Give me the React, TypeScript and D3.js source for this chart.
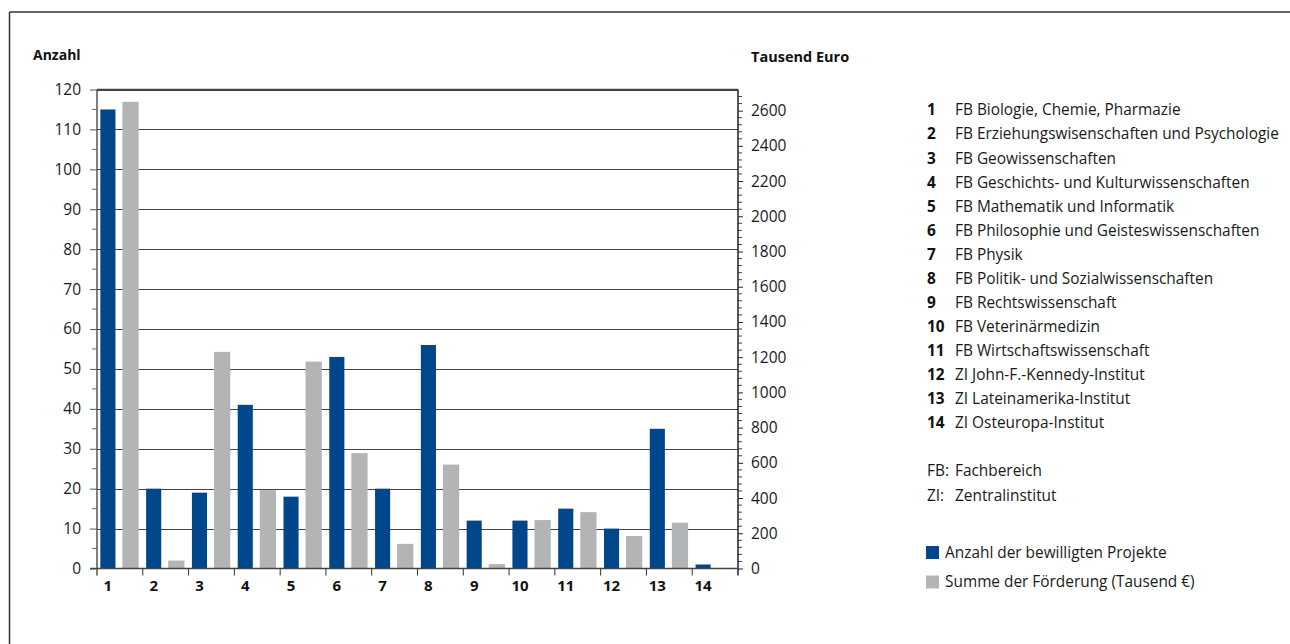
import React, { useRef, useEffect } from 'react';
import * as d3 from 'd3';

// Fachbereiche / Zentralinstitute (Kategorie-Nummern auf der x-Achse)
const categories = ['1', '2', '3', '4', '5', '6', '7', '8', '9', '10', '11', '12', '13', '14'];

const unitNames = [
  'FB Biologie, Chemie, Pharmazie',
  'FB Erziehungswisenschaften und Psychologie',
  'FB Geowissenschaften',
  'FB Geschichts- und Kulturwissenschaften',
  'FB Mathematik und Informatik',
  'FB Philosophie und Geisteswissenschaften',
  'FB Physik',
  'FB Politik- und Sozialwissenschaften',
  'FB Rechtswissenschaft',
  'FB Veterinärmedizin',
  'FB Wirtschaftswissenschaft',
  'ZI John-F.-Kennedy-Institut',
  'ZI Lateinamerika-Institut',
  'ZI Osteuropa-Institut',
];

// Anzahl der bewilligten Projekte (linke Achse)
const projectCounts = [115, 20, 19, 41, 18, 53, 20, 56, 12, 12, 15, 10, 35, 1];

// Summe der Förderung in Tausend Euro (rechte Achse)
const fundingSums = [2650, 45, 1230, 445, 1175, 655, 140, 590, 25, 275, 320, 185, 260, 0];

const leftTicks = [0, 10, 20, 30, 40, 50, 60, 70, 80, 90, 100, 110, 120];
const rightTicks = [0, 200, 400, 600, 800, 1000, 1200, 1400, 1600, 1800, 2000, 2200, 2400, 2600];

const abbreviations = [
  { key: 'FB:', text: 'Fachbereich' },
  { key: 'ZI:', text: 'Zentralinstitut' },
];

const seriesNames = ['Anzahl der bewilligten Projekte', 'Summe der Förderung (Tausend €)'];

const BLUE = '#00468b';
const GREY = '#b3b4b6';
const FONT = '"Open Sans", "DejaVu Sans", sans-serif';
const LEGEND_SIZE = '15.4px';

const App: React.FC = () => {
  const svgRef = useRef<SVGSVGElement>(null);

  useEffect(() => {
    if (!svgRef.current) return;
    document.body.style.margin = '0';

    const width = 1290;
    const height = 644;
    const svg = d3.select(svgRef.current);
    svg.selectAll('*').remove();
    svg.attr('width', width).attr('height', height).style('font-family', FONT);

    // Rahmen (nur oben und links sichtbar)
    svg.append('line').attr('x1', 9.5).attr('x2', width).attr('y1', 12).attr('y2', 12)
      .attr('stroke', '#333').attr('stroke-width', 1.5);
    svg.append('line').attr('x1', 9.5).attr('x2', 9.5).attr('y1', 12).attr('y2', height)
      .attr('stroke', '#333').attr('stroke-width', 1.5);

    const left = 97;
    const right = 738;
    const top = 89.5;
    const bottom = 568.5;

    const x = d3.scaleBand<string>().domain(categories).range([left, right]).padding(0);
    const yL = d3.scaleLinear().domain([0, 120]).range([bottom, top]);
    const yR = d3.scaleLinear().domain([0, 2720]).range([bottom, top]);
    const bw = x.bandwidth();

    // Gitterlinien
    svg.append('g').selectAll('line')
      .data(leftTicks.filter(d => d > 0))
      .enter().append('line')
      .attr('x1', left).attr('x2', right)
      .attr('y1', d => Math.round(yL(d)) + 0.5).attr('y2', d => Math.round(yL(d)) + 0.5)
      .attr('stroke', '#444').attr('stroke-width', 1);

    // Balken
    const bars = svg.append('g');
    bars.selectAll('.blue')
      .data(projectCounts)
      .enter().append('rect')
      .attr('x', (d, i) => (x(categories[i]) as number) + bw * 0.073)
      .attr('width', bw * 0.33)
      .attr('y', d => yL(d))
      .attr('height', d => bottom - yL(d))
      .attr('fill', BLUE);
    bars.selectAll('.grey')
      .data(fundingSums)
      .enter().append('rect')
      .attr('x', (d, i) => (x(categories[i]) as number) + bw * 0.555)
      .attr('width', bw * 0.355)
      .attr('y', d => yR(d))
      .attr('height', d => bottom - yR(d))
      .attr('fill', GREY);

    // linke Achse
    const gl = svg.append('g').attr('transform', `translate(${left},0)`);
    gl.call(d3.axisLeft(yL).tickValues(leftTicks).tickSize(7).tickPadding(9).tickFormat(d3.format('d')));
    gl.select('.domain').remove();
    gl.selectAll('.tick line').attr('stroke', '#555');
    gl.selectAll('text').style('font-size', '15.5px').style('font-family', FONT).attr('fill', '#1a1a1a');
    gl.append('g').selectAll('line')
      .data(d3.range(5, 120, 10))
      .enter().append('line')
      .attr('x1', -5).attr('x2', 0)
      .attr('y1', d => yL(d)).attr('y2', d => yL(d))
      .attr('stroke', '#666');
    gl.append('line').attr('x1', 0).attr('x2', 0).attr('y1', top).attr('y2', bottom + 7)
      .attr('stroke', '#555').attr('stroke-width', 1.5);

    // rechte Achse
    const gr = svg.append('g').attr('transform', `translate(${right},0)`);
    gr.call(d3.axisRight(yR).tickValues(rightTicks).tickSize(5).tickPadding(8).tickFormat(d3.format('d')));
    gr.select('.domain').remove();
    gr.selectAll('.tick line').attr('stroke', '#222');
    gr.selectAll('text').style('font-size', '15.5px').style('font-family', FONT).attr('fill', '#1a1a1a');
    gr.append('g').selectAll('line')
      .data(d3.range(40, 2720, 40).filter(d => d % 200 !== 0))
      .enter().append('line')
      .attr('x1', 0).attr('x2', 4)
      .attr('y1', d => yR(d)).attr('y2', d => yR(d))
      .attr('stroke', '#444');
    gr.append('line').attr('x1', 0).attr('x2', 0).attr('y1', top).attr('y2', bottom + 7)
      .attr('stroke', '#222').attr('stroke-width', 1.5);

    // Grundlinie und Kategorieachse
    svg.append('line').attr('x1', left - 7).attr('x2', right).attr('y1', bottom).attr('y2', bottom)
      .attr('stroke', '#444').attr('stroke-width', 1.5);
    svg.append('line').attr('x1', left).attr('x2', right).attr('y1', top).attr('y2', top)
      .attr('stroke', '#444').attr('stroke-width', 1.5);
    svg.append('g').selectAll('line')
      .data(categories.slice(1))
      .enter().append('line')
      .attr('x1', d => x(d) as number).attr('x2', d => x(d) as number)
      .attr('y1', bottom).attr('y2', bottom + 7)
      .attr('stroke', '#333');
    svg.append('g').selectAll('text')
      .data(categories)
      .enter().append('text')
      .attr('x', d => (x(d) as number) + bw * 0.238)
      .attr('y', bottom + 17)
      .attr('dy', '0.35em')
      .attr('text-anchor', 'middle')
      .style('font-size', '15px').style('font-weight', 'bold').attr('fill', '#111')
      .text(d => d);

    // Achsentitel
    svg.append('text').attr('x', 33).attr('y', 60)
      .style('font-size', '14px').style('font-weight', 'bold').attr('fill', '#111').text('Anzahl');
    svg.append('text').attr('x', 751).attr('y', 62)
      .style('font-size', '14.5px').style('font-weight', 'bold').attr('fill', '#111').text('Tausend Euro');

    // Legende: Nummern und Namen
    const lg = svg.append('g');
    const rowY = (i: number) => 110 + i * 24.08;
    lg.selectAll('.num')
      .data(categories)
      .enter().append('text')
      .attr('x', 927).attr('y', (d, i) => rowY(i)).attr('dy', '0.35em')
      .style('font-size', LEGEND_SIZE).style('font-weight', 'bold').attr('fill', '#111')
      .text(d => d);
    lg.selectAll('.name')
      .data(unitNames)
      .enter().append('text')
      .attr('x', 955).attr('y', (d, i) => rowY(i)).attr('dy', '0.35em')
      .style('font-size', LEGEND_SIZE).attr('fill', '#1a1a1a')
      .text(d => d);

    abbreviations.forEach((a, i) => {
      const yy = 471 + i * 24.5;
      lg.append('text').attr('x', 927).attr('y', yy).attr('dy', '0.35em')
        .style('font-size', LEGEND_SIZE).attr('fill', '#1a1a1a').text(a.key);
      lg.append('text').attr('x', 955).attr('y', yy).attr('dy', '0.35em')
        .style('font-size', LEGEND_SIZE).attr('fill', '#1a1a1a').text(a.text);
    });

    const swatchColors = [BLUE, GREY];
    seriesNames.forEach((name, i) => {
      const yy = 552.5 + i * 29.5;
      lg.append('rect').attr('x', 926).attr('y', yy - 6.5).attr('width', 13).attr('height', 13)
        .attr('fill', swatchColors[i]);
      lg.append('text').attr('x', 945).attr('y', yy).attr('dy', '0.35em')
        .style('font-size', LEGEND_SIZE).attr('fill', '#1a1a1a').text(name);
    });
  }, []);

  return (
    <div>
      <svg ref={svgRef} style={{ display: 'block' }}></svg>
    </div>
  );
};

export default App;
